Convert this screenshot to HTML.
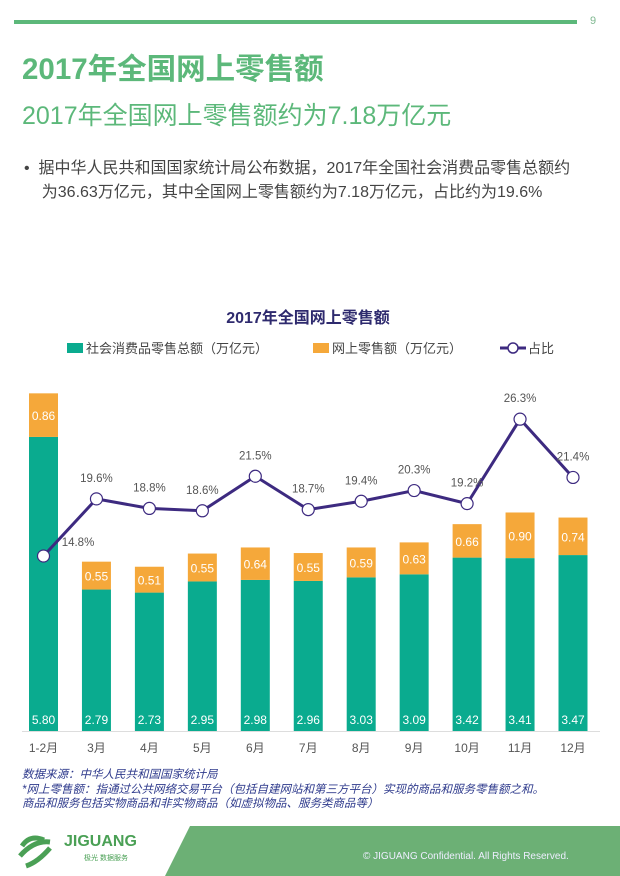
<!DOCTYPE html>
<html><head><meta charset="utf-8"><style>
body{margin:0;width:620px;height:876px;background:#fff;font-family:"Liberation Sans","Noto Sans CJK SC",sans-serif;position:relative;overflow:hidden}
.a{position:absolute;white-space:nowrap}
</style></head><body>
<div class="a" style="left:14px;top:20px;width:563px;height:4px;background:#5cb87a"></div>
<div class="a" style="top:15px;font-size:11px;color:#7fb890;left:590px">9</div>
<div class="a" style="left:22px;top:46px;font-size:29.5px;font-weight:bold;color:#5cb87a">2017年全国网上零售额</div>
<div class="a" style="left:22px;top:96px;font-size:25px;color:#5cb87a">2017年全国网上零售额约为7.18万亿元</div>
<div class="a" style="left:24px;top:157px;font-size:16px;color:#444;line-height:24px">•&nbsp; 据中华人民共和国国家统计局公布数据，2017年全国社会消费品零售总额约<br>&nbsp;&nbsp;&nbsp;&nbsp;为36.63万亿元，其中全国网上零售额约为7.18万亿元，占比约为19.6%</div>
<svg class="a" style="left:0;top:0" width="620" height="876" font-family="Liberation Sans, Noto Sans CJK SC, sans-serif">
<text x="308" y="323" text-anchor="middle" font-size="16" font-weight="bold" fill="#2e2a6e">2017年全国网上零售额</text>
<rect x="67" y="343" width="16" height="10" fill="#0aab8f"/><text x="86" y="353" font-size="13" fill="#444">社会消费品零售总额（万亿元）</text>
<rect x="313" y="343" width="16" height="10" fill="#f5a83a"/><text x="332" y="353" font-size="13" fill="#444">网上零售额（万亿元）</text>
<line x1="500" y1="348" x2="526" y2="348" stroke="#3d2a80" stroke-width="3"/><circle cx="513" cy="348" r="5" fill="#fff" stroke="#3d2a80" stroke-width="1.5"/><text x="528" y="353" font-size="13" fill="#444">占比</text>
<line x1="22" y1="731.5" x2="600" y2="731.5" stroke="#ddd"/>
<g id="bars"></g>
</svg>
<script>
var g=[5.80,2.79,2.73,2.95,2.98,2.96,3.03,3.09,3.42,3.41,3.47],o=[0.86,0.55,0.51,0.55,0.64,0.55,0.59,0.63,0.66,0.90,0.74],p=[14.8,19.6,18.8,18.6,21.5,18.7,19.4,20.3,19.2,26.3,21.4],m=["1-2月","3月","4月","5月","6月","7月","8月","9月","10月","11月","12月"];
var s="",pts=[],c="";
for(var i=0;i<11;i++){var cx=43.5+52.95*i,gh=g[i]*50.7,oh=o[i]*50.7,gt=731-gh,ot=gt-oh;
s+='<rect x="'+(cx-14.5)+'" y="'+gt+'" width="29" height="'+gh+'" fill="#0aab8f"/><rect x="'+(cx-14.5)+'" y="'+ot+'" width="29" height="'+oh+'" fill="#f5a83a"/>';
s+='<text x="'+cx+'" y="'+(ot+oh/2+5)+'" text-anchor="middle" font-size="12" fill="#fff">'+o[i].toFixed(2)+'</text>';
s+='<text x="'+cx+'" y="724" text-anchor="middle" font-size="12" fill="#fff">'+g[i].toFixed(2)+'</text>';
s+='<text x="'+cx+'" y="752" text-anchor="middle" font-size="12" fill="#555">'+m[i]+'</text>';
var py=556-(p[i]-14.8)*11.9;pts.push(cx+','+py);
c+='<circle cx="'+cx+'" cy="'+py+'" r="6" fill="#fff" stroke="#3d2a80" stroke-width="1.2"/>';
if(i==0)c+='<text x="78" y="546" text-anchor="middle" font-size="11.5" fill="#555">14.8%</text>';
else c+='<text x="'+cx+'" y="'+(py-17)+'" text-anchor="middle" font-size="11.5" fill="#555">'+p[i].toFixed(1)+'%</text>';}
s+='<polyline points="'+pts.join(' ')+'" fill="none" stroke="#3d2a80" stroke-width="3"/>'+c;
document.getElementById('bars').innerHTML=s;
</script>
<div class="a" style="left:22px;top:768px;font-size:11.5px;font-style:italic;color:#2e3a8c;line-height:14.5px">数据来源：中华人民共和国国家统计局<br>*网上零售额：指通过公共网络交易平台（包括自建网站和第三方平台）实现的商品和服务零售额之和。<br>商品和服务包括实物商品和非实物商品（如虚拟物品、服务类商品等）</div>
<svg class="a" style="left:0;top:826px" width="620" height="50"><polygon points="165,50 190,0 620,0 620,50" fill="#6cb075"/>
<path d="M22 20 q8 -12 22 -6 M20 30 q14 -16 30 -14 M26 40 q12 -4 24 -18" stroke="#4aa055" stroke-width="5" fill="none"/></svg>
<div class="a" style="left:64px;top:833px;font-size:16px;font-weight:bold;color:#4aa055">JIGUANG</div>
<div class="a" style="left:84px;top:853px;font-size:7px;color:#4aa055">极光 数据服务</div>
<div class="a" style="left:363px;top:851px;font-size:10px;color:#eef">© JIGUANG Confidential. All Rights Reserved.</div>
</body></html>
